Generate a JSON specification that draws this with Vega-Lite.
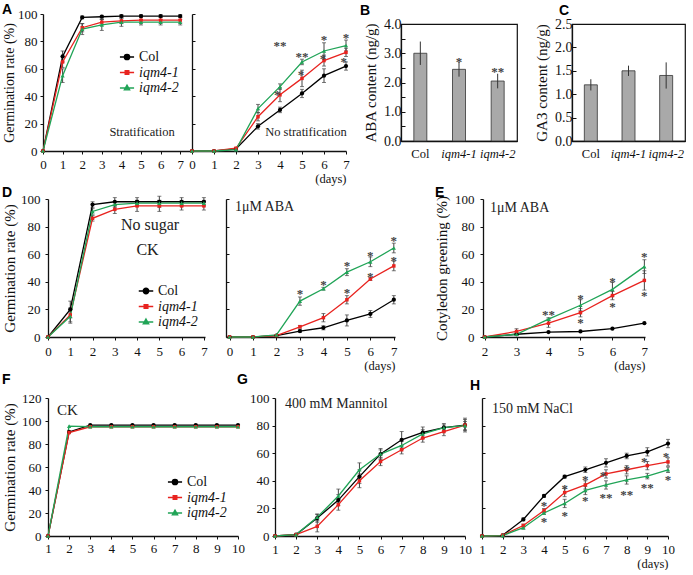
{
  "$schema": "https://vega.github.io/schema/vega-lite/v6.json",
  "padding": {"left": 2, "top": 3, "right": 0, "bottom": 0},
  "background": "white",
  "config": {
    "view": {"stroke": null},
    "font": "Liberation Serif",
    "axis": {"grid": false, "domainColor": "#111", "domainWidth": 1.3, "tickColor": "#111", "tickWidth": 1, "tickSize": 3, "labelColor": "#111", "titleColor": "#111", "labelFont": "Liberation Serif", "titleFont": "Liberation Serif", "labelFontSize": 13, "titleFontSize": 15, "titleFontWeight": "normal", "labelPadding": 3, "titlePadding": 4, "labelFlush": false, "labelOverlap": false},
    "title": {"font": "Liberation Sans", "fontWeight": "bold", "fontSize": 14, "anchor": "start", "frame": "group", "color": "#000"},
    "legend": {"labelFont": "Liberation Serif", "labelFontSize": 14, "labelColor": "#111"},
    "text": {"font": "Liberation Serif", "fill": "#222222"}
  },
  "datasets": {
    "aL": [
      {"s":"Col","d":0,"v":0,"e":0},{"s":"Col","d":1,"v":69,"e":4},{"s":"Col","d":2,"v":97.5,"e":1},{"s":"Col","d":3,"v":98,"e":1},{"s":"Col","d":4,"v":98.5,"e":1},{"s":"Col","d":5,"v":98.5,"e":1},{"s":"Col","d":6,"v":98.5,"e":1},{"s":"Col","d":7,"v":98.5,"e":1},
      {"s":"iqm4-1","d":0,"v":0,"e":0},{"s":"iqm4-1","d":1,"v":65,"e":4},{"s":"iqm4-1","d":2,"v":90,"e":3},{"s":"iqm4-1","d":3,"v":94,"e":2},{"s":"iqm4-1","d":4,"v":95,"e":2},{"s":"iqm4-1","d":5,"v":95.5,"e":2},{"s":"iqm4-1","d":6,"v":95.5,"e":2},{"s":"iqm4-1","d":7,"v":95.5,"e":2},
      {"s":"iqm4-2","d":0,"v":0,"e":0},{"s":"iqm4-2","d":1,"v":55,"e":5},{"s":"iqm4-2","d":2,"v":89,"e":4},{"s":"iqm4-2","d":3,"v":92,"e":4},{"s":"iqm4-2","d":4,"v":94,"e":3},{"s":"iqm4-2","d":5,"v":94,"e":2},{"s":"iqm4-2","d":6,"v":94,"e":2},{"s":"iqm4-2","d":7,"v":94,"e":2}
    ],
    "aLt": [{"d":5.05,"v":14,"t":"Stratification"}],
    "aR": [
      {"s":"Col","d":0,"v":0,"e":0},{"s":"Col","d":1,"v":0,"e":0},{"s":"Col","d":2,"v":1.5,"e":0},{"s":"Col","d":3,"v":18,"e":2},{"s":"Col","d":4,"v":30,"e":2},{"s":"Col","d":5,"v":42,"e":3},{"s":"Col","d":6,"v":55,"e":5},{"s":"Col","d":7,"v":62,"e":3},
      {"s":"iqm4-1","d":0,"v":0,"e":0},{"s":"iqm4-1","d":1,"v":0,"e":0},{"s":"iqm4-1","d":2,"v":2,"e":0},{"s":"iqm4-1","d":3,"v":25,"e":3},{"s":"iqm4-1","d":4,"v":41,"e":5},{"s":"iqm4-1","d":5,"v":53,"e":6},{"s":"iqm4-1","d":6,"v":66,"e":4},{"s":"iqm4-1","d":7,"v":72,"e":3},
      {"s":"iqm4-2","d":0,"v":0,"e":0},{"s":"iqm4-2","d":1,"v":0,"e":0},{"s":"iqm4-2","d":2,"v":1,"e":0},{"s":"iqm4-2","d":3,"v":31,"e":3},{"s":"iqm4-2","d":4,"v":47,"e":2},{"s":"iqm4-2","d":5,"v":65,"e":2},{"s":"iqm4-2","d":6,"v":73,"e":6},{"s":"iqm4-2","d":7,"v":77,"e":4}
    ],
    "aRs": [
      {"d":4,"v":79,"t":"**"},{"d":3.88,"v":43,"t":"*"},{"d":5,"v":71,"t":"**"},{"d":4.95,"v":58,"t":"*"},{"d":6,"v":83,"t":"*"},{"d":5.95,"v":69,"t":"*"},{"d":7,"v":85,"t":"*"},{"d":6.9,"v":67,"t":"*"}
    ],
    "aRt": [{"d":5.18,"v":14,"t":"No stratification"}],
    "dL": [
      {"s":"Col","d":0,"v":0,"e":0},{"s":"Col","d":1,"v":20,"e":6},{"s":"Col","d":2,"v":96,"e":2},{"s":"Col","d":3,"v":98,"e":3},{"s":"Col","d":4,"v":98,"e":3},{"s":"Col","d":5,"v":98,"e":4},{"s":"Col","d":6,"v":98,"e":3},{"s":"Col","d":7,"v":98,"e":3},
      {"s":"iqm4-1","d":0,"v":0,"e":0},{"s":"iqm4-1","d":1,"v":16,"e":5},{"s":"iqm4-1","d":2,"v":86,"e":2},{"s":"iqm4-1","d":3,"v":92.5,"e":3},{"s":"iqm4-1","d":4,"v":95,"e":4},{"s":"iqm4-1","d":5,"v":95,"e":4},{"s":"iqm4-1","d":6,"v":95,"e":3},{"s":"iqm4-1","d":7,"v":95,"e":3},
      {"s":"iqm4-2","d":0,"v":0,"e":0},{"s":"iqm4-2","d":1,"v":15,"e":5},{"s":"iqm4-2","d":2,"v":91,"e":2},{"s":"iqm4-2","d":3,"v":96,"e":2},{"s":"iqm4-2","d":4,"v":97,"e":2},{"s":"iqm4-2","d":5,"v":97,"e":2},{"s":"iqm4-2","d":6,"v":97,"e":2},{"s":"iqm4-2","d":7,"v":97,"e":2}
    ],
    "dLt": [{"d":4.58,"v":81,"t":"No sugar"},{"d":4.47,"v":63,"t":"CK"}],
    "dR": [
      {"s":"Col","d":0,"v":0,"e":0},{"s":"Col","d":1,"v":0,"e":0},{"s":"Col","d":2,"v":1,"e":0},{"s":"Col","d":3,"v":4.3,"e":1},{"s":"Col","d":4,"v":6.7,"e":1.5},{"s":"Col","d":5,"v":12,"e":4},{"s":"Col","d":6,"v":16.7,"e":2.5},{"s":"Col","d":7,"v":27,"e":3},
      {"s":"iqm4-1","d":0,"v":0,"e":0},{"s":"iqm4-1","d":1,"v":0,"e":0},{"s":"iqm4-1","d":2,"v":1,"e":0},{"s":"iqm4-1","d":3,"v":7.4,"e":1},{"s":"iqm4-1","d":4,"v":14,"e":3},{"s":"iqm4-1","d":5,"v":27,"e":3},{"s":"iqm4-1","d":6,"v":42,"e":1},{"s":"iqm4-1","d":7,"v":51.5,"e":3.5},
      {"s":"iqm4-2","d":0,"v":0,"e":0},{"s":"iqm4-2","d":1,"v":0,"e":0},{"s":"iqm4-2","d":2,"v":1.5,"e":0},{"s":"iqm4-2","d":3,"v":26,"e":3},{"s":"iqm4-2","d":4,"v":35,"e":1},{"s":"iqm4-2","d":5,"v":47,"e":2.5},{"s":"iqm4-2","d":6,"v":54.5,"e":3.5},{"s":"iqm4-2","d":7,"v":64.5,"e":3.5}
    ],
    "dRs": [
      {"d":3,"v":33,"t":"*"},{"d":4,"v":40,"t":"*"},{"d":5,"v":53.5,"t":"*"},{"d":5,"v":34,"t":"*"},{"d":6,"v":61,"t":"*"},{"d":6,"v":46,"t":"*"},{"d":7,"v":72,"t":"*"},{"d":7,"v":57,"t":"*"}
    ],
    "dRt": [{"d":0.23,"v":94,"t":"1μM ABA"}],
    "e": [
      {"s":"Col","d":2,"v":0,"e":0},{"s":"Col","d":3,"v":2,"e":0},{"s":"Col","d":4,"v":3.6,"e":0},{"s":"Col","d":5,"v":4,"e":0},{"s":"Col","d":6,"v":6,"e":0},{"s":"Col","d":7,"v":10,"e":0},
      {"s":"iqm4-1","d":2,"v":0,"e":0},{"s":"iqm4-1","d":3,"v":4,"e":2},{"s":"iqm4-1","d":4,"v":10,"e":3},{"s":"iqm4-1","d":5,"v":17.6,"e":3},{"s":"iqm4-1","d":6,"v":30,"e":3},{"s":"iqm4-1","d":7,"v":41,"e":7},
      {"s":"iqm4-2","d":2,"v":0,"e":0},{"s":"iqm4-2","d":3,"v":2,"e":1},{"s":"iqm4-2","d":4,"v":13,"e":1},{"s":"iqm4-2","d":5,"v":23,"e":4},{"s":"iqm4-2","d":6,"v":34.5,"e":5},{"s":"iqm4-2","d":7,"v":51,"e":5}
    ],
    "es": [
      {"d":4,"v":18,"t":"**"},{"d":5,"v":30,"t":"*"},{"d":5,"v":12.4,"t":"*"},{"d":6,"v":42,"t":"*"},{"d":6,"v":24,"t":"*"},{"d":7,"v":60,"t":"*"},{"d":7,"v":32,"t":"*"}
    ],
    "et": [{"d":2.17,"v":93.5,"t":"1μM ABA"}],
    "f": [
      {"s":"Col","d":1,"v":0,"e":0},{"s":"Col","d":2,"v":90.5,"e":0},{"s":"Col","d":3,"v":96.5,"e":0},{"s":"Col","d":4,"v":96.5,"e":0},{"s":"Col","d":5,"v":96.5,"e":0},{"s":"Col","d":6,"v":96.5,"e":0},{"s":"Col","d":7,"v":96.5,"e":0},{"s":"Col","d":8,"v":96.5,"e":0},{"s":"Col","d":9,"v":96.5,"e":0},{"s":"Col","d":10,"v":96.5,"e":0},
      {"s":"iqm4-1","d":1,"v":0,"e":0},{"s":"iqm4-1","d":2,"v":90,"e":0},{"s":"iqm4-1","d":3,"v":95,"e":0},{"s":"iqm4-1","d":4,"v":95,"e":0},{"s":"iqm4-1","d":5,"v":95,"e":0},{"s":"iqm4-1","d":6,"v":95,"e":0},{"s":"iqm4-1","d":7,"v":95,"e":0},{"s":"iqm4-1","d":8,"v":95,"e":0},{"s":"iqm4-1","d":9,"v":95,"e":0},{"s":"iqm4-1","d":10,"v":95,"e":0},
      {"s":"iqm4-2","d":1,"v":0,"e":0},{"s":"iqm4-2","d":2,"v":95.5,"e":0},{"s":"iqm4-2","d":3,"v":95,"e":0},{"s":"iqm4-2","d":4,"v":95,"e":0},{"s":"iqm4-2","d":5,"v":95,"e":0},{"s":"iqm4-2","d":6,"v":95,"e":0},{"s":"iqm4-2","d":7,"v":95,"e":0},{"s":"iqm4-2","d":8,"v":95,"e":0},{"s":"iqm4-2","d":9,"v":95,"e":0},{"s":"iqm4-2","d":10,"v":95,"e":0}
    ],
    "ft": [{"d":1.43,"v":109.5,"t":"CK"}],
    "g": [
      {"s":"Col","d":1,"v":0,"e":0},{"s":"Col","d":2,"v":1,"e":0},{"s":"Col","d":3,"v":13,"e":3},{"s":"Col","d":4,"v":26,"e":4},{"s":"Col","d":5,"v":43,"e":5},{"s":"Col","d":6,"v":59.4,"e":4},{"s":"Col","d":7,"v":69.7,"e":6},{"s":"Col","d":8,"v":75,"e":4},{"s":"Col","d":9,"v":78.5,"e":3},{"s":"Col","d":10,"v":80.4,"e":5},
      {"s":"iqm4-1","d":1,"v":0,"e":0},{"s":"iqm4-1","d":2,"v":1,"e":0},{"s":"iqm4-1","d":3,"v":7,"e":4},{"s":"iqm4-1","d":4,"v":22.7,"e":4},{"s":"iqm4-1","d":5,"v":40,"e":5},{"s":"iqm4-1","d":6,"v":54,"e":3},{"s":"iqm4-1","d":7,"v":62.5,"e":3},{"s":"iqm4-1","d":8,"v":71,"e":3},{"s":"iqm4-1","d":9,"v":75.7,"e":3},{"s":"iqm4-1","d":10,"v":80.4,"e":4},
      {"s":"iqm4-2","d":1,"v":0,"e":0},{"s":"iqm4-2","d":2,"v":1,"e":0},{"s":"iqm4-2","d":3,"v":13.6,"e":2},{"s":"iqm4-2","d":4,"v":29,"e":5},{"s":"iqm4-2","d":5,"v":48,"e":5},{"s":"iqm4-2","d":6,"v":59.4,"e":3},{"s":"iqm4-2","d":7,"v":65.6,"e":3},{"s":"iqm4-2","d":8,"v":74,"e":3},{"s":"iqm4-2","d":9,"v":78.5,"e":2},{"s":"iqm4-2","d":10,"v":80,"e":3}
    ],
    "gt": [{"d":1.47,"v":95.5,"t":"400 mM Mannitol"}],
    "h": [
      {"s":"Col","d":1,"v":0,"e":0},{"s":"Col","d":2,"v":0.5,"e":0},{"s":"Col","d":3,"v":12,"e":1},{"s":"Col","d":4,"v":29,"e":1},{"s":"Col","d":5,"v":43,"e":1},{"s":"Col","d":6,"v":48,"e":2},{"s":"Col","d":7,"v":53,"e":3},{"s":"Col","d":8,"v":58,"e":2},{"s":"Col","d":9,"v":61,"e":3},{"s":"Col","d":10,"v":67,"e":3},
      {"s":"iqm4-1","d":1,"v":0,"e":0},{"s":"iqm4-1","d":2,"v":0.5,"e":0},{"s":"iqm4-1","d":3,"v":7.6,"e":1},{"s":"iqm4-1","d":4,"v":18.4,"e":1.5},{"s":"iqm4-1","d":5,"v":31.5,"e":3},{"s":"iqm4-1","d":6,"v":37,"e":3},{"s":"iqm4-1","d":7,"v":45,"e":3},{"s":"iqm4-1","d":8,"v":48,"e":3},{"s":"iqm4-1","d":9,"v":51,"e":3},{"s":"iqm4-1","d":10,"v":53.7,"e":3},
      {"s":"iqm4-2","d":1,"v":0,"e":0},{"s":"iqm4-2","d":2,"v":0.3,"e":0},{"s":"iqm4-2","d":3,"v":6,"e":1},{"s":"iqm4-2","d":4,"v":16.7,"e":1},{"s":"iqm4-2","d":5,"v":23.6,"e":3},{"s":"iqm4-2","d":6,"v":33,"e":3},{"s":"iqm4-2","d":7,"v":37,"e":3},{"s":"iqm4-2","d":8,"v":40.6,"e":3},{"s":"iqm4-2","d":9,"v":43.4,"e":2},{"s":"iqm4-2","d":10,"v":48,"e":2}
    ],
    "hs": [
      {"d":4,"v":23.6,"t":"*"},{"d":4,"v":12.4,"t":"*"},{"d":5,"v":36,"t":"*"},{"d":5,"v":16.5,"t":"*"},{"d":6,"v":42.5,"t":"*"},{"d":6,"v":27.4,"t":"*"},{"d":6.85,"v":46,"t":"*"},{"d":7,"v":29.6,"t":"**"},{"d":8,"v":50,"t":"*"},{"d":8,"v":32,"t":"**"},{"d":8.85,"v":56,"t":"*"},{"d":9,"v":36.8,"t":"**"},{"d":9.9,"v":59.7,"t":"*"},{"d":10,"v":42.7,"t":"*"}
    ],
    "ht": [{"d":1.48,"v":92,"t":"150 mM NaCl"}],
    "b": [
      {"g":"Col","v":3.0,"e":0.4,"star":"","sy":3.5},{"g":"iqm4-1","v":2.45,"e":0.25,"star":"*","sy":2.82},{"g":"iqm4-2","v":2.05,"e":0.25,"star":"**","sy":2.46}
    ],
    "c": [
      {"g":"Col","v":1.2,"e":0.12},{"g":"iqm4-1","v":1.5,"e":0.11},{"g":"iqm4-2","v":1.4,"e":0.28}
    ]
  },
  "spacing": 1,
  "resolve": {"scale": {"color": "independent"}, "legend": {"color": "independent"}},
  "vconcat": [
    {
      "hconcat": [
        {
          "title": {"text": "A", "dx": -41, "offset": -9},
          "width": 149, "height": 137,
          "data": {"name": "aL"},
          "encoding": {
            "x": {"field": "d", "type": "quantitative", "scale": {"domain": [0, 7.6], "nice": false}, "axis": {"values": [0,1,2,3,4,5,6,7], "title": null, "labelPadding": 4}},
            "y": {"field": "v", "type": "quantitative", "scale": {"domain": [0, 100], "nice": false}, "axis": {"values": [0,20,40,60,80,100], "title": "Germination rate (%)", "titleFontSize": 14, "titlePadding": 1}}
          },
          "layer": [
            {"transform": [{"filter": "datum.e > 0"}], "mark": {"type": "errorbar", "color": "#444", "thickness": 1, "ticks": {"size": 4, "color": "#444"}}, "encoding": {"yError": {"field": "e"}}},
            {"mark": {"type": "line", "strokeWidth": 1.3}, "encoding": {"color": {"field": "s", "type": "nominal", "scale": {"domain": ["Col","iqm4-1","iqm4-2"], "range": ["#000000","#e8231f","#20a457"]}, "legend": {"orient": "none", "legendX": 76, "legendY": 35, "title": null, "symbolType": {"expr": "datum.value == 'Col' ? 'M-1,0H1M-0.38,0A0.38,0.38 0 1,1 0.38,0A0.38,0.38 0 1,1 -0.38,0' : datum.value == 'iqm4-1' ? 'M-1,0H1M-0.26,-0.26H0.26V0.26H-0.26Z' : 'M-1,0H1M0,-0.42L0.38,0.26H-0.38Z'"}, "symbolFillColor": {"expr": "datum.value == 'Col' ? '#000000' : datum.value == 'iqm4-1' ? '#e8231f' : '#20a457'"}, "symbolSize": 200, "symbolStrokeWidth": 1.3, "labelFontSize": 14, "labelOffset": 4, "rowPadding": 0.5, "labelFontStyle": {"expr": "datum.label == 'Col' ? 'normal' : 'italic'"}}}}},
            {"transform": [{"filter": "datum.s == 'Col'"}], "mark": {"type": "point", "shape": "circle", "filled": true, "size": 18, "color": "#000000", "opacity": 1}},
            {"transform": [{"filter": "datum.s == 'iqm4-1'"}], "mark": {"type": "point", "shape": "square", "filled": true, "size": 12, "color": "#e8231f", "opacity": 1}},
            {"transform": [{"filter": "datum.s == 'iqm4-2'"}], "mark": {"type": "point", "shape": "triangle-up", "filled": true, "size": 18, "color": "#20a457", "opacity": 1}},
            {"data": {"name": "aLt"}, "mark": {"type": "text", "fontSize": 12.5, "fill": "#222222"}, "encoding": {"text": {"field": "t"}}}
          ]
        },
        {
          "width": 154, "height": 137,
          "data": {"name": "aR"},
          "encoding": {
            "x": {"field": "d", "type": "quantitative", "scale": {"domain": [0, 7], "nice": false}, "axis": {"values": [0,1,2,3,4,5,6,7], "title": "(days)", "titleAnchor": "end", "titleFontSize": 12.5, "titlePadding": 1, "labelPadding": 4}},
            "y": {"field": "v", "type": "quantitative", "scale": {"domain": [0, 100], "nice": false}, "axis": {"values": [0,20,40,60,80,100], "title": null, "labels": false, "tickSize": -3}}
          },
          "layer": [
            {"transform": [{"filter": "datum.e > 0"}], "mark": {"type": "errorbar", "color": "#444", "thickness": 1, "ticks": {"size": 4, "color": "#444"}}, "encoding": {"yError": {"field": "e"}}},
            {"mark": {"type": "line", "strokeWidth": 1.3}, "encoding": {"color": {"field": "s", "type": "nominal", "scale": {"domain": ["Col","iqm4-1","iqm4-2"], "range": ["#000000","#e8231f","#20a457"]}, "legend": null}}},
            {"transform": [{"filter": "datum.s == 'Col'"}], "mark": {"type": "point", "shape": "circle", "filled": true, "size": 18, "color": "#000000", "opacity": 1}},
            {"transform": [{"filter": "datum.s == 'iqm4-1'"}], "mark": {"type": "point", "shape": "square", "filled": true, "size": 12, "color": "#e8231f", "opacity": 1}},
            {"transform": [{"filter": "datum.s == 'iqm4-2'"}], "mark": {"type": "point", "shape": "triangle-up", "filled": true, "size": 18, "color": "#20a457", "opacity": 1}},
            {"data": {"name": "aRs"}, "mark": {"type": "text", "fontSize": 13, "fontWeight": "bold", "baseline": "middle", "dy": 3, "fill": "#444444"}, "encoding": {"text": {"field": "t"}}},
            {"data": {"name": "aRt"}, "mark": {"type": "text", "fontSize": 12.5, "fill": "#222222"}, "encoding": {"text": {"field": "t"}}}
          ]
        },
        {"width": 55, "height": 1, "data": {"values": [{"k": 0}]}, "mark": {"type": "point", "opacity": 0}},
        {
          "title": {"text": "B", "dx": -41, "offset": -1},
          "width": 116, "height": 117,
          "view": {"stroke": "#111", "strokeWidth": 1.2},
          "data": {"name": "b"},
          "encoding": {
            "x": {"field": "g", "type": "nominal", "sort": null, "axis": {"title": null, "labelAngle": 0, "labelFontSize": 12.5, "labelPadding": 6, "ticks": false, "labelFontStyle": {"condition": {"test": "datum.value == 'Col'", "value": "normal"}, "value": "italic"}}},
            "y": {"field": "v", "type": "quantitative", "scale": {"domain": [0, 4], "nice": false}, "axis": {"title": "ABA content (ng/g)", "values": [0,0.5,1,1.5,2,2.5,3,3.5,4], "labelExpr": "datum.value % 1 == 0 ? format(datum.value, '.1f') : ''", "tickSize": -4, "labelFontSize": 14, "labelPadding": 4, "titlePadding": 5}}
          },
          "layer": [
            {"mark": {"type": "bar", "size": 13, "fill": "#a9a9a9", "stroke": "#333", "strokeWidth": 0.8}},
            {"mark": {"type": "errorbar", "color": "#333", "thickness": 1}, "encoding": {"yError": {"field": "e"}}},
            {"mark": {"type": "text", "fontSize": 13, "fontWeight": "bold", "baseline": "middle", "dy": 3, "fill": "#444444"}, "encoding": {"y": {"field": "sy", "type": "quantitative"}, "text": {"field": "star"}}}
          ]
        },
        {"width": 55, "height": 1, "data": {"values": [{"k": 0}]}, "mark": {"type": "point", "opacity": 0}},
        {
          "title": {"text": "C", "dx": -13, "offset": -1},
          "width": 113, "height": 117,
          "view": {"stroke": "#111", "strokeWidth": 1.2},
          "data": {"name": "c"},
          "encoding": {
            "x": {"field": "g", "type": "nominal", "sort": null, "axis": {"title": null, "labelAngle": 0, "labelFontSize": 12.5, "labelPadding": 6, "ticks": false, "labelFontStyle": {"condition": {"test": "datum.value == 'Col'", "value": "normal"}, "value": "italic"}}},
            "y": {"field": "v", "type": "quantitative", "scale": {"domain": [0, 2.5], "nice": false}, "axis": {"title": "GA3 content (ng/g)", "values": [0,0.5,1,1.5,2,2.5], "format": ".1f", "tickSize": -4, "labelFontSize": 14, "labelPadding": 4, "titlePadding": 5}}
          },
          "layer": [
            {"mark": {"type": "bar", "size": 13, "fill": "#a9a9a9", "stroke": "#333", "strokeWidth": 0.8}},
            {"mark": {"type": "errorbar", "color": "#333", "thickness": 1}, "encoding": {"yError": {"field": "e"}}}
          ]
        }
      ],
      "spacing": 0, "bounds": "flush", "center": true,
      "resolve": {"scale": {"color": "independent"}, "legend": {"color": "independent"}}
    },
    {
      "hconcat": [
        {"width": 5, "height": 1, "data": {"values": [{"k": 0}]}, "mark": {"type": "point", "opacity": 0}},
        {
          "title": {"text": "D", "dx": -46, "offset": -7},
          "width": 157, "height": 138,
          "data": {"name": "dL"},
          "encoding": {
            "x": {"field": "d", "type": "quantitative", "scale": {"domain": [0, 7.05], "nice": false}, "axis": {"values": [0,1,2,3,4,5,6,7], "title": null, "labelPadding": 5}},
            "y": {"field": "v", "type": "quantitative", "scale": {"domain": [0, 100], "nice": false}, "axis": {"values": [0,20,40,60,80,100], "title": "Germination rate (%)", "labelPadding": 5, "titlePadding": 3}}
          },
          "layer": [
            {"transform": [{"filter": "datum.e > 0"}], "mark": {"type": "errorbar", "color": "#444", "thickness": 1, "ticks": {"size": 4, "color": "#444"}}, "encoding": {"yError": {"field": "e"}}},
            {"mark": {"type": "line", "strokeWidth": 1.3}, "encoding": {"color": {"field": "s", "type": "nominal", "scale": {"domain": ["Col","iqm4-1","iqm4-2"], "range": ["#000000","#e8231f","#20a457"]}, "legend": {"orient": "none", "legendX": 90, "legendY": 84, "title": null, "symbolType": {"expr": "datum.value == 'Col' ? 'M-1,0H1M-0.38,0A0.38,0.38 0 1,1 0.38,0A0.38,0.38 0 1,1 -0.38,0' : datum.value == 'iqm4-1' ? 'M-1,0H1M-0.26,-0.26H0.26V0.26H-0.26Z' : 'M-1,0H1M0,-0.42L0.38,0.26H-0.38Z'"}, "symbolFillColor": {"expr": "datum.value == 'Col' ? '#000000' : datum.value == 'iqm4-1' ? '#e8231f' : '#20a457'"}, "symbolSize": 210, "symbolStrokeWidth": 1.3, "labelFontSize": 14, "labelOffset": 4, "rowPadding": 0.5, "labelFontStyle": {"expr": "datum.label == 'Col' ? 'normal' : 'italic'"}}}}},
            {"transform": [{"filter": "datum.s == 'Col'"}], "mark": {"type": "point", "shape": "circle", "filled": true, "size": 18, "color": "#000000", "opacity": 1}},
            {"transform": [{"filter": "datum.s == 'iqm4-1'"}], "mark": {"type": "point", "shape": "square", "filled": true, "size": 12, "color": "#e8231f", "opacity": 1}},
            {"transform": [{"filter": "datum.s == 'iqm4-2'"}], "mark": {"type": "point", "shape": "triangle-up", "filled": true, "size": 18, "color": "#20a457", "opacity": 1}},
            {"data": {"name": "dLt"}, "mark": {"type": "text", "fontSize": 16, "fill": "#222222"}, "encoding": {"text": {"field": "t"}}}
          ]
        },
        {"width": 21, "height": 1, "data": {"values": [{"k": 0}]}, "mark": {"type": "point", "opacity": 0}},
        {
          "width": 169, "height": 138,
          "data": {"name": "dR"},
          "encoding": {
            "x": {"field": "d", "type": "quantitative", "scale": {"domain": [-0.15, 7.05], "nice": false}, "axis": {"values": [0,1,2,3,4,5,6,7], "title": "(days)", "titleAnchor": "end", "titleFontSize": 12.5, "titlePadding": 1, "labelPadding": 5}},
            "y": {"field": "v", "type": "quantitative", "scale": {"domain": [0, 100], "nice": false}, "axis": {"values": [0,20,40,60,80,100], "title": null, "labels": false, "tickSize": -3}}
          },
          "layer": [
            {"transform": [{"filter": "datum.e > 0"}], "mark": {"type": "errorbar", "color": "#444", "thickness": 1, "ticks": {"size": 4, "color": "#444"}}, "encoding": {"yError": {"field": "e"}}},
            {"mark": {"type": "line", "strokeWidth": 1.3}, "encoding": {"color": {"field": "s", "type": "nominal", "scale": {"domain": ["Col","iqm4-1","iqm4-2"], "range": ["#000000","#e8231f","#20a457"]}, "legend": null}}},
            {"transform": [{"filter": "datum.s == 'Col'"}], "mark": {"type": "point", "shape": "circle", "filled": true, "size": 18, "color": "#000000", "opacity": 1}},
            {"transform": [{"filter": "datum.s == 'iqm4-1'"}], "mark": {"type": "point", "shape": "square", "filled": true, "size": 12, "color": "#e8231f", "opacity": 1}},
            {"transform": [{"filter": "datum.s == 'iqm4-2'"}], "mark": {"type": "point", "shape": "triangle-up", "filled": true, "size": 18, "color": "#20a457", "opacity": 1}},
            {"data": {"name": "dRs"}, "mark": {"type": "text", "fontSize": 13, "fontWeight": "bold", "baseline": "middle", "dy": 3, "fill": "#444444"}, "encoding": {"text": {"field": "t"}}},
            {"data": {"name": "dRt"}, "mark": {"type": "text", "fontSize": 14, "align": "left", "fill": "#222222"}, "encoding": {"text": {"field": "t"}}}
          ]
        },
        {"width": 88, "height": 1, "data": {"values": [{"k": 0}]}, "mark": {"type": "point", "opacity": 0}},
        {
          "title": {"text": "E", "dx": -48, "offset": -7},
          "width": 162, "height": 138,
          "data": {"name": "e"},
          "encoding": {
            "x": {"field": "d", "type": "quantitative", "scale": {"domain": [1.95, 7.02], "nice": false}, "axis": {"values": [2,3,4,5,6,7], "title": "(days)", "titleAnchor": "end", "titleFontSize": 12.5, "titlePadding": 1, "labelPadding": 5}},
            "y": {"field": "v", "type": "quantitative", "scale": {"domain": [0, 100], "nice": false}, "axis": {"values": [0,20,40,60,80,100], "title": "Cotyledon greening (%)", "labelPadding": 6, "titlePadding": 5}}
          },
          "layer": [
            {"transform": [{"filter": "datum.e > 0"}], "mark": {"type": "errorbar", "color": "#444", "thickness": 1, "ticks": {"size": 4, "color": "#444"}}, "encoding": {"yError": {"field": "e"}}},
            {"mark": {"type": "line", "strokeWidth": 1.3}, "encoding": {"color": {"field": "s", "type": "nominal", "scale": {"domain": ["Col","iqm4-1","iqm4-2"], "range": ["#000000","#e8231f","#20a457"]}, "legend": null}}},
            {"transform": [{"filter": "datum.s == 'Col'"}], "mark": {"type": "point", "shape": "circle", "filled": true, "size": 18, "color": "#000000", "opacity": 1}},
            {"transform": [{"filter": "datum.s == 'iqm4-1'"}], "mark": {"type": "point", "shape": "square", "filled": true, "size": 12, "color": "#e8231f", "opacity": 1}},
            {"transform": [{"filter": "datum.s == 'iqm4-2'"}], "mark": {"type": "point", "shape": "triangle-up", "filled": true, "size": 18, "color": "#20a457", "opacity": 1}},
            {"data": {"name": "es"}, "mark": {"type": "text", "fontSize": 13, "fontWeight": "bold", "baseline": "middle", "dy": 3, "fill": "#444444"}, "encoding": {"text": {"field": "t"}}},
            {"data": {"name": "et"}, "mark": {"type": "text", "fontSize": 14, "align": "left", "fill": "#222222"}, "encoding": {"text": {"field": "t"}}}
          ]
        }
      ],
      "spacing": 0, "bounds": "flush",
      "resolve": {"scale": {"color": "independent"}, "legend": {"color": "independent"}}
    },
    {
      "hconcat": [
        {"width": 5, "height": 1, "data": {"values": [{"k": 0}]}, "mark": {"type": "point", "opacity": 0}},
        {
          "title": {"text": "F", "dx": -46, "offset": 5},
          "width": 190, "height": 138,
          "data": {"name": "f"},
          "encoding": {
            "x": {"field": "d", "type": "quantitative", "scale": {"domain": [1, 10], "nice": false}, "axis": {"values": [1,2,3,4,5,6,7,8,9,10], "title": null, "labelPadding": 3}},
            "y": {"field": "v", "type": "quantitative", "scale": {"domain": [0, 120], "nice": false}, "axis": {"values": [0,20,40,60,80,100,120], "title": "Germination rate (%)", "labelPadding": 4, "titlePadding": 4}}
          },
          "layer": [
            {"mark": {"type": "line", "strokeWidth": 1.3}, "encoding": {"color": {"field": "s", "type": "nominal", "scale": {"domain": ["Col","iqm4-1","iqm4-2"], "range": ["#000000","#e8231f","#20a457"]}, "legend": {"orient": "none", "legendX": 119, "legendY": 76, "title": null, "symbolType": {"expr": "datum.value == 'Col' ? 'M-1,0H1M-0.38,0A0.38,0.38 0 1,1 0.38,0A0.38,0.38 0 1,1 -0.38,0' : datum.value == 'iqm4-1' ? 'M-1,0H1M-0.26,-0.26H0.26V0.26H-0.26Z' : 'M-1,0H1M0,-0.42L0.38,0.26H-0.38Z'"}, "symbolFillColor": {"expr": "datum.value == 'Col' ? '#000000' : datum.value == 'iqm4-1' ? '#e8231f' : '#20a457'"}, "symbolSize": 200, "symbolStrokeWidth": 1.3, "labelFontSize": 14, "labelOffset": 4, "rowPadding": 0.5, "labelFontStyle": {"expr": "datum.label == 'Col' ? 'normal' : 'italic'"}}}}},
            {"transform": [{"filter": "datum.s == 'Col'"}], "mark": {"type": "point", "shape": "circle", "filled": true, "size": 18, "color": "#000000", "opacity": 1}},
            {"transform": [{"filter": "datum.s == 'iqm4-1'"}], "mark": {"type": "point", "shape": "square", "filled": true, "size": 12, "color": "#e8231f", "opacity": 1}},
            {"transform": [{"filter": "datum.s == 'iqm4-2'"}], "mark": {"type": "point", "shape": "triangle-up", "filled": true, "size": 18, "color": "#20a457", "opacity": 1}},
            {"data": {"name": "ft"}, "mark": {"type": "text", "fontSize": 15, "align": "left", "fill": "#222222"}, "encoding": {"text": {"field": "t"}}}
          ]
        },
        {"width": 37, "height": 1, "data": {"values": [{"k": 0}]}, "mark": {"type": "point", "opacity": 0}},
        {
          "title": {"text": "G", "dx": -38, "offset": 5},
          "width": 190, "height": 138,
          "data": {"name": "g"},
          "encoding": {
            "x": {"field": "d", "type": "quantitative", "scale": {"domain": [1, 10], "nice": false}, "axis": {"values": [1,2,3,4,5,6,7,8,9,10], "title": null, "labelPadding": 4}},
            "y": {"field": "v", "type": "quantitative", "scale": {"domain": [0, 100], "nice": false}, "axis": {"values": [0,20,40,60,80,100], "title": null, "labelPadding": 3}}
          },
          "layer": [
            {"transform": [{"filter": "datum.e > 0"}], "mark": {"type": "errorbar", "color": "#444", "thickness": 1, "ticks": {"size": 4, "color": "#444"}}, "encoding": {"yError": {"field": "e"}}},
            {"mark": {"type": "line", "strokeWidth": 1.3}, "encoding": {"color": {"field": "s", "type": "nominal", "scale": {"domain": ["Col","iqm4-1","iqm4-2"], "range": ["#000000","#e8231f","#20a457"]}, "legend": null}}},
            {"transform": [{"filter": "datum.s == 'Col'"}], "mark": {"type": "point", "shape": "circle", "filled": true, "size": 18, "color": "#000000", "opacity": 1}},
            {"transform": [{"filter": "datum.s == 'iqm4-1'"}], "mark": {"type": "point", "shape": "square", "filled": true, "size": 12, "color": "#e8231f", "opacity": 1}},
            {"transform": [{"filter": "datum.s == 'iqm4-2'"}], "mark": {"type": "point", "shape": "triangle-up", "filled": true, "size": 18, "color": "#20a457", "opacity": 1}},
            {"data": {"name": "gt"}, "mark": {"type": "text", "fontSize": 14, "align": "left", "fill": "#222222"}, "encoding": {"text": {"field": "t"}}}
          ]
        },
        {"width": 17, "height": 1, "data": {"values": [{"k": 0}]}, "mark": {"type": "point", "opacity": 0}},
        {
          "title": {"text": "H", "dx": -12, "offset": 5},
          "width": 186, "height": 138,
          "data": {"name": "h"},
          "encoding": {
            "x": {"field": "d", "type": "quantitative", "scale": {"domain": [1, 10], "nice": false}, "axis": {"values": [1,2,3,4,5,6,7,8,9,10], "title": "(days)", "titleAnchor": "end", "titleFontSize": 12.5, "titlePadding": 1, "labelPadding": 4}},
            "y": {"field": "v", "type": "quantitative", "scale": {"domain": [0, 100], "nice": false}, "axis": {"values": [0,20,40,60,80,100], "title": null, "labels": false, "tickSize": -3}}
          },
          "layer": [
            {"transform": [{"filter": "datum.e > 0"}], "mark": {"type": "errorbar", "color": "#444", "thickness": 1, "ticks": {"size": 4, "color": "#444"}}, "encoding": {"yError": {"field": "e"}}},
            {"mark": {"type": "line", "strokeWidth": 1.3}, "encoding": {"color": {"field": "s", "type": "nominal", "scale": {"domain": ["Col","iqm4-1","iqm4-2"], "range": ["#000000","#e8231f","#20a457"]}, "legend": null}}},
            {"transform": [{"filter": "datum.s == 'Col'"}], "mark": {"type": "point", "shape": "circle", "filled": true, "size": 18, "color": "#000000", "opacity": 1}},
            {"transform": [{"filter": "datum.s == 'iqm4-1'"}], "mark": {"type": "point", "shape": "square", "filled": true, "size": 12, "color": "#e8231f", "opacity": 1}},
            {"transform": [{"filter": "datum.s == 'iqm4-2'"}], "mark": {"type": "point", "shape": "triangle-up", "filled": true, "size": 18, "color": "#20a457", "opacity": 1}},
            {"data": {"name": "hs"}, "mark": {"type": "text", "fontSize": 13, "fontWeight": "bold", "baseline": "middle", "dy": 3, "fill": "#444444"}, "encoding": {"text": {"field": "t"}}},
            {"data": {"name": "ht"}, "mark": {"type": "text", "fontSize": 14, "align": "left", "fill": "#222222"}, "encoding": {"text": {"field": "t"}}}
          ]
        }
      ],
      "spacing": 0, "bounds": "flush",
      "resolve": {"scale": {"color": "independent"}, "legend": {"color": "independent"}}
    }
  ]
}
